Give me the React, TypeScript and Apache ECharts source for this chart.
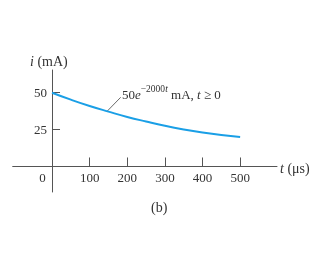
import React, { useEffect, useRef } from "react";
import * as echarts from "echarts";

const times = [0, 50, 100, 150, 200, 250, 300, 350, 400, 450, 500];
const current = [50, 45.3, 41.0, 37.2, 33.6, 30.5, 27.6, 25.1, 23.0, 21.3, 20.0];
const xTicks = [0, 100, 200, 300, 400, 500];
const yTicks = [25, 50];

const FONT = "'Liberation Serif', 'DejaVu Serif', serif";
const TEXT = "#333";
const AXIS = "#555";

const GRID_LEFT = 12.7;
const GRID_TOP = 70;
const GRID_W = 264.3;
const GRID_H = 122;
const X_MIN = -104.5;
const X_MAX = 598;
const Y_MIN = -17.3;
const Y_MAX = 65.4;

export default function App() {
  const ref = useRef<HTMLDivElement>(null);
  useEffect(() => {
    const chart = echarts.init(ref.current!, null, { renderer: "svg" });
    const yZeroOffset = (-Y_MIN / (Y_MAX - Y_MIN)) * GRID_H;
    const xZeroOffset = (-X_MIN / (X_MAX - X_MIN)) * GRID_W;
    chart.setOption({
      animation: false,
      grid: {
        left: GRID_LEFT,
        top: GRID_TOP,
        width: GRID_W,
        height: GRID_H,
        containLabel: false,
        outerBoundsMode: "none",
      },
      xAxis: {
        type: "value",
        min: X_MIN,
        max: X_MAX,
        position: "bottom",
        offset: -yZeroOffset,
        splitLine: { show: false },
        axisLine: { onZero: false, lineStyle: { color: AXIS, width: 1 } },
        axisTick: { inside: true, length: 9, customValues: xTicks.filter((v) => v !== 0), lineStyle: { color: AXIS } },
        axisLabel: {
          customValues: xTicks,
          margin: 5,
          color: TEXT,
          fontFamily: FONT,
          fontSize: 13,
          formatter: (v: number) => (v === 0 ? "{z|0}" : String(v)),
          rich: { z: { padding: [0, 19, 0, 0], fontFamily: FONT, fontSize: 13, color: TEXT } },
        },
      },
      yAxis: {
        type: "value",
        min: Y_MIN,
        max: Y_MAX,
        position: "left",
        offset: -xZeroOffset,
        splitLine: { show: false },
        axisLine: { onZero: false, lineStyle: { color: AXIS, width: 1 } },
        axisTick: { inside: true, length: 8, customValues: yTicks, lineStyle: { color: AXIS } },
        axisLabel: { customValues: yTicks, margin: 5, color: TEXT, fontFamily: FONT, fontSize: 13 },
      },
      series: [
        {
          type: "line",
          data: times.map((t, i) => [t, current[i]]),
          smooth: true,
          showSymbol: false,
          lineStyle: { color: "#1a9fe6", width: 2 },
        },
      ],
      graphic: [
        {
          type: "text",
          left: 30,
          top: 54,
          style: {
            text: "{it|i} (mA)",
            fontFamily: FONT,
            fontSize: 14,
            fill: TEXT,
            rich: { it: { fontStyle: "italic", fontFamily: FONT, fontSize: 14, fill: TEXT } },
          },
        },
        {
          type: "text",
          left: 280,
          top: 161,
          style: {
            text: "{it|t} (μs)",
            fontFamily: FONT,
            fontSize: 14,
            fill: TEXT,
            rich: { it: { fontStyle: "italic", fontFamily: FONT, fontSize: 14, fill: TEXT } },
          },
        },
        {
          type: "text",
          left: 151,
          top: 200,
          style: { text: "(b)", fontFamily: FONT, fontSize: 14, fill: TEXT },
        },
        {
          type: "line",
          shape: { x1: 106.7, y1: 111.7, x2: 120.7, y2: 97.3 },
          style: { stroke: "#444", lineWidth: 0.8 },
        },
        {
          type: "text",
          left: 122,
          top: 84,
          style: {
            text: "{b|50}{e|e}{s|−2000}{si|t}{b| mA, }{i|t}{b| ≥ 0}",
            fontFamily: FONT,
            fontSize: 13,
            fill: TEXT,
            rich: {
              b: { fontFamily: FONT, fontSize: 13, lineHeight: 14, verticalAlign: "bottom", fill: TEXT },
              e: { fontFamily: FONT, fontSize: 13, lineHeight: 14, verticalAlign: "bottom", fontStyle: "italic", fill: TEXT },
              i: { fontFamily: FONT, fontSize: 13, lineHeight: 14, verticalAlign: "bottom", fontStyle: "italic", fill: TEXT },
              s: { fontFamily: FONT, fontSize: 9.5, lineHeight: 10, padding: [0, 0, 7, 0], verticalAlign: "bottom", fill: TEXT },
              si: { fontFamily: FONT, fontSize: 9.5, lineHeight: 10, padding: [0, 0, 7, 0], verticalAlign: "bottom", fontStyle: "italic", fill: TEXT },
            },
          },
        },
      ],
    });
    return () => chart.dispose();
  }, []);
  return <div ref={ref} style={{ position: "fixed", left: 0, top: 0, width: 320, height: 260 }} />;
}
